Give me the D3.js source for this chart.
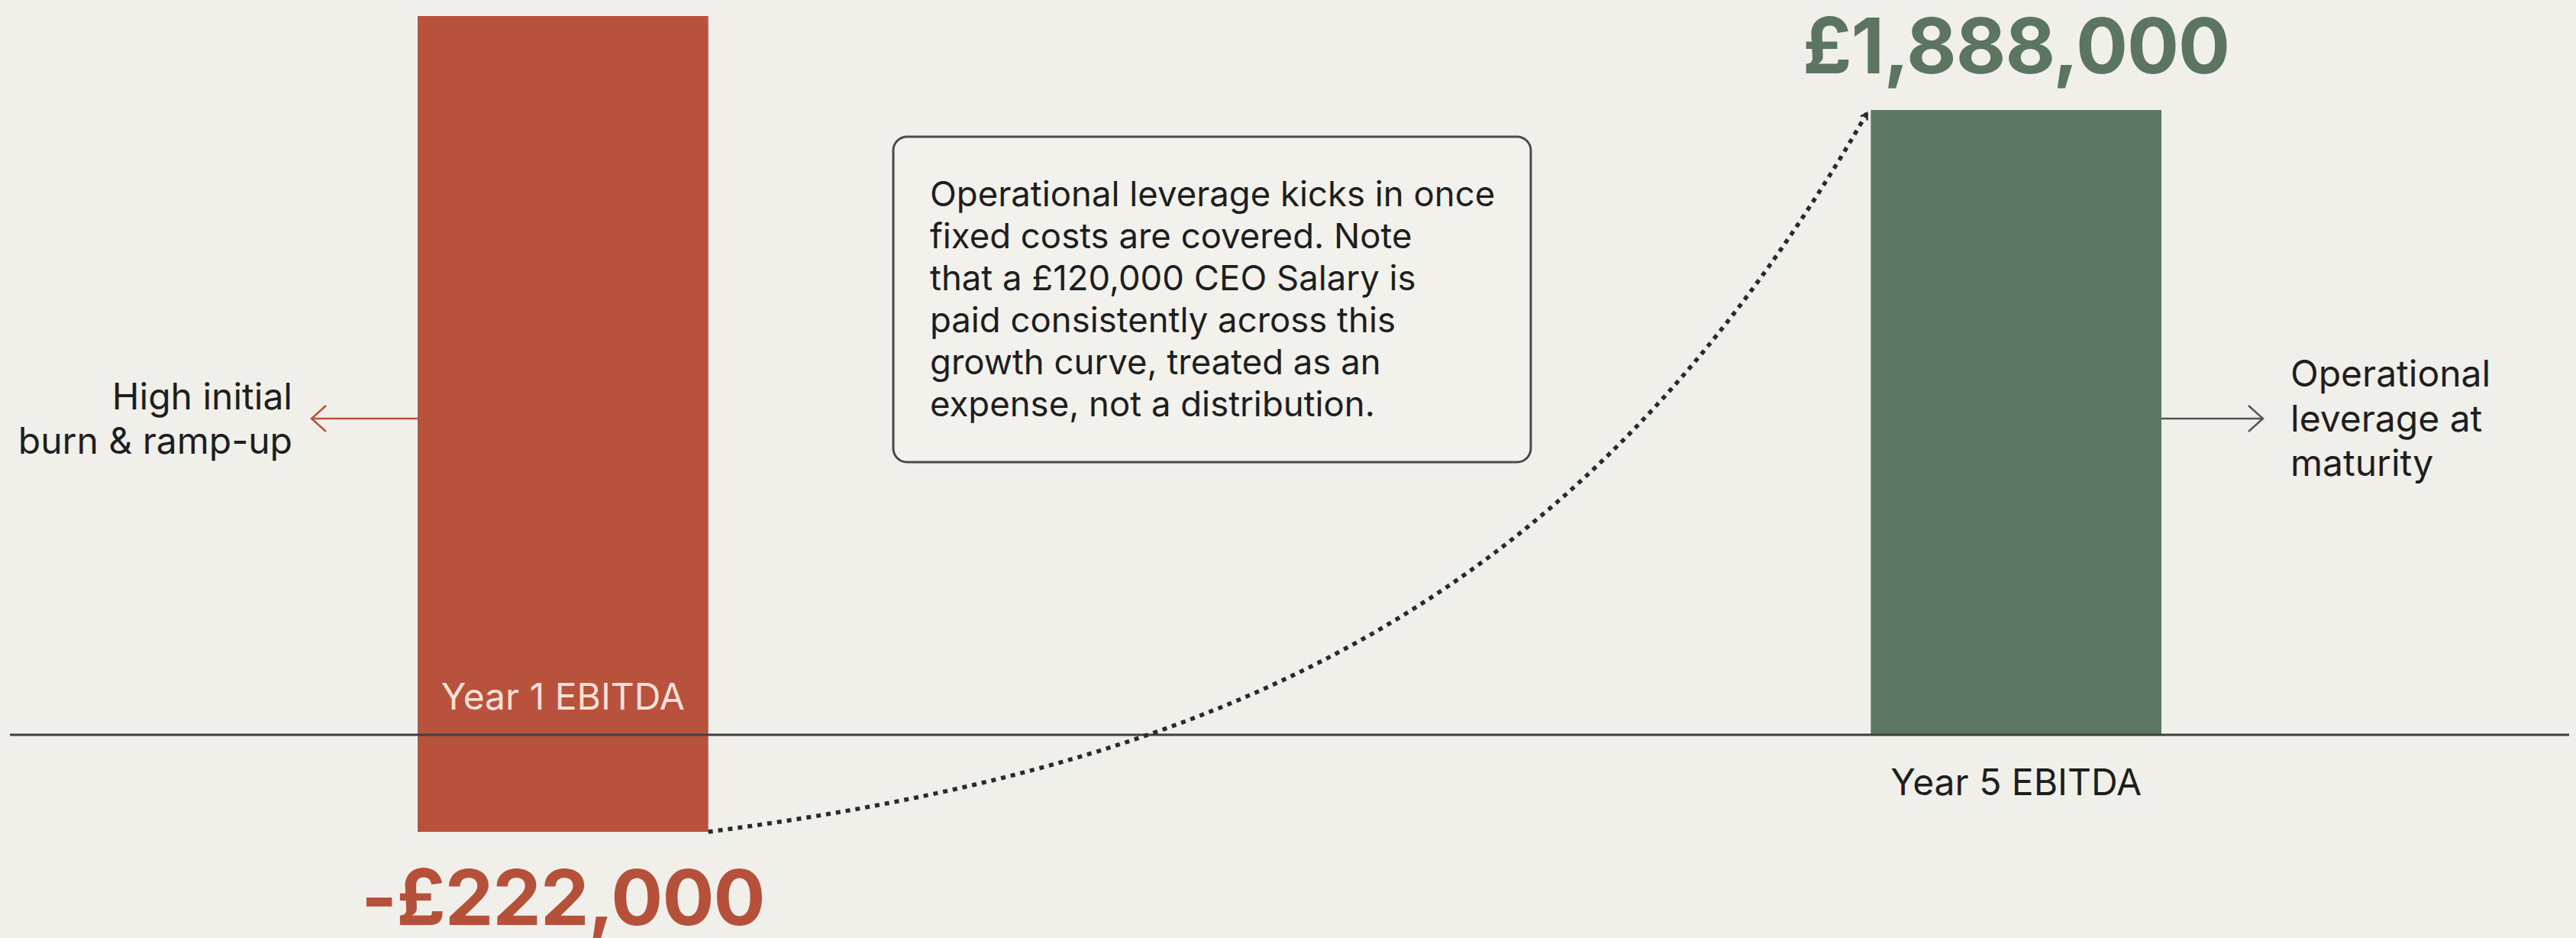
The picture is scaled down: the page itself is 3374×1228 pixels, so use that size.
<!DOCTYPE html>
<html>
<head>
<meta charset="utf-8">
<script src="https://cdn.jsdelivr.net/npm/d3@7"></script>
<style>
  html, body { margin: 0; padding: 0; background: #F0EFEA; }
  svg { display: block; }
  text { font-family: Inter, "Noto Sans", sans-serif; }
</style>
</head>
<body>
<svg id="chart" width="3374" height="1228"></svg>
<script>
// ---- data ----
const categories = ["Year 1 EBITDA", "Year 5 EBITDA"];
const ebitda = [-222000, 1888000];
const valueLabels = ["-£222,000", "£1,888,000"];
// vertical extent of each bar as drawn (Year 1 bar spans from the top of the frame down to its value)
const barHigh = [2172000, 1888000];
const barLow = [-222000, 0];
const noteLines = [
  "Operational leverage kicks in once",
  "fixed costs are covered. Note",
  "that a £120,000 CEO Salary is",
  "paid consistently across this",
  "growth curve, treated as an",
  "expense, not a distribution."
];
const leftNote = ["High initial", "burn & ramp-up"];
const rightNote = ["Operational", "leverage at", "maturity"];

// ---- layout ----
const W = 3374, H = 1228;
const svg = d3.select("#chart");
svg.append("rect").attr("width", W).attr("height", H).attr("fill", "#F0EFEA");

const x = d3.scaleBand().domain(categories).range([547, 2831]).paddingInner(0.8).paddingOuter(0);
const y = d3.scaleLinear().domain([-222000, 0, 2172000]).range([1089, 962, 21]);

const barColors = ["#B8523C", "#5D7862"];
const textColors = ["#B5503A", "#5B7560"];

// bars
svg.selectAll("rect.bar").data(categories).join("rect")
  .attr("class", "bar")
  .attr("x", d => x(d))
  .attr("width", x.bandwidth())
  .attr("y", (d, i) => y(barHigh[i]))
  .attr("height", (d, i) => y(barLow[i]) - y(barHigh[i]))
  .attr("fill", (d, i) => barColors[i]);

// baseline
svg.append("line")
  .attr("x1", 13).attr("x2", 3365)
  .attr("y1", y(0)).attr("y2", y(0))
  .attr("stroke", "#3f3f3f").attr("stroke-width", 3);

// category labels
svg.append("text")
  .attr("x", x(categories[0]) + x.bandwidth() / 2)
  .attr("y", y(0) - 33)
  .attr("text-anchor", "middle")
  .attr("font-size", 48)
  .attr("fill", "#F7E0D6")
  .text(categories[0]);
svg.append("text")
  .attr("x", x(categories[1]) + x.bandwidth() / 2)
  .attr("y", y(0) + 79)
  .attr("text-anchor", "middle")
  .attr("font-size", 48)
  .attr("fill", "#1e1e1e")
  .text(categories[1]);

// value labels
svg.append("text")
  .attr("x", x(categories[0]) + x.bandwidth() / 2)
  .attr("y", y(ebitda[0]) + 122)
  .attr("text-anchor", "middle")
  .attr("font-size", 101).attr("font-weight", 700)
  .attr("letter-spacing", -1)
  .attr("fill", textColors[0])
  .text(valueLabels[0]);
svg.append("text")
  .attr("x", x(categories[1]) + x.bandwidth() / 2)
  .attr("y", y(ebitda[1]) - 48)
  .attr("text-anchor", "middle")
  .attr("font-size", 101).attr("font-weight", 700)
  .attr("letter-spacing", -1)
  .attr("fill", textColors[1])
  .text(valueLabels[1]);

// growth connector (dotted exponential curve from Year 1 value to Year 5 value)
const defs = svg.append("defs");
defs.append("marker")
  .attr("id", "arrowDark").attr("viewBox", "0 0 12 12")
  .attr("refX", 10).attr("refY", 6)
  .attr("markerWidth", 12).attr("markerHeight", 12)
  .attr("markerUnits", "userSpaceOnUse")
  .attr("orient", "auto")
  .append("path").attr("d", "M2,1 L10,6 L2,11")
  .attr("fill", "none").attr("stroke", "#2a2a2a").attr("stroke-width", 2.5);

const x0 = x(categories[0]) + x.bandwidth(), y0 = y(ebitda[0]);
const x1 = x(categories[1]) - 5, y1 = y(ebitda[1]) + 4;
const k = 2.6;
const pts = d3.range(0, 1.0001, 0.005).map(u => [
  x0 + u * (x1 - x0),
  y0 + (y1 - y0) * (Math.exp(k * u) - 1) / (Math.exp(k) - 1)
]);
svg.append("path")
  .attr("d", d3.line()(pts))
  .attr("fill", "none")
  .attr("stroke", "#2a2a2a")
  .attr("stroke-width", 5.5)
  .attr("stroke-dasharray", "6 7")
  .attr("marker-end", "url(#arrowDark)");

// side annotations with arrows
function chevronArrow(xFrom, xTo, yy, color) {
  const dir = Math.sign(xTo - xFrom);
  svg.append("line").attr("x1", xFrom).attr("x2", xTo).attr("y1", yy).attr("y2", yy)
    .attr("stroke", color).attr("stroke-width", 2.5);
  svg.append("path")
    .attr("d", `M${xTo - dir * 19},${yy - 17} L${xTo},${yy} L${xTo - dir * 19},${yy + 17}`)
    .attr("fill", "none").attr("stroke", color).attr("stroke-width", 2.5);
}
const arrowY = 548;
chevronArrow(x(categories[0]), 408, arrowY, "#B8523C");
chevronArrow(x(categories[1]) + x.bandwidth(), 2964, arrowY, "#555555");

svg.append("g").selectAll("text").data(leftNote).join("text")
  .attr("x", 383).attr("y", (d, i) => 536 + i * 58)
  .attr("text-anchor", "end")
  .attr("font-size", 48).attr("fill", "#1e1e1e")
  .text(d => d);

svg.append("g").selectAll("text").data(rightNote).join("text")
  .attr("x", 3000).attr("y", (d, i) => 506 + i * 58.5)
  .attr("text-anchor", "start")
  .attr("font-size", 48).attr("fill", "#1e1e1e")
  .text(d => d);

// note box
svg.append("rect")
  .attr("x", 1170).attr("y", 179).attr("width", 835).attr("height", 426)
  .attr("rx", 18).attr("ry", 18)
  .attr("fill", "#F2F1EC").attr("stroke", "#4a4a4a").attr("stroke-width", 3);
svg.append("g").selectAll("text").data(noteLines).join("text")
  .attr("x", 1218).attr("y", (d, i) => 270 + i * 55)
  .attr("font-size", 45.5).attr("fill", "#1e1e1e")
  .text(d => d);
</script>
</body>
</html>
